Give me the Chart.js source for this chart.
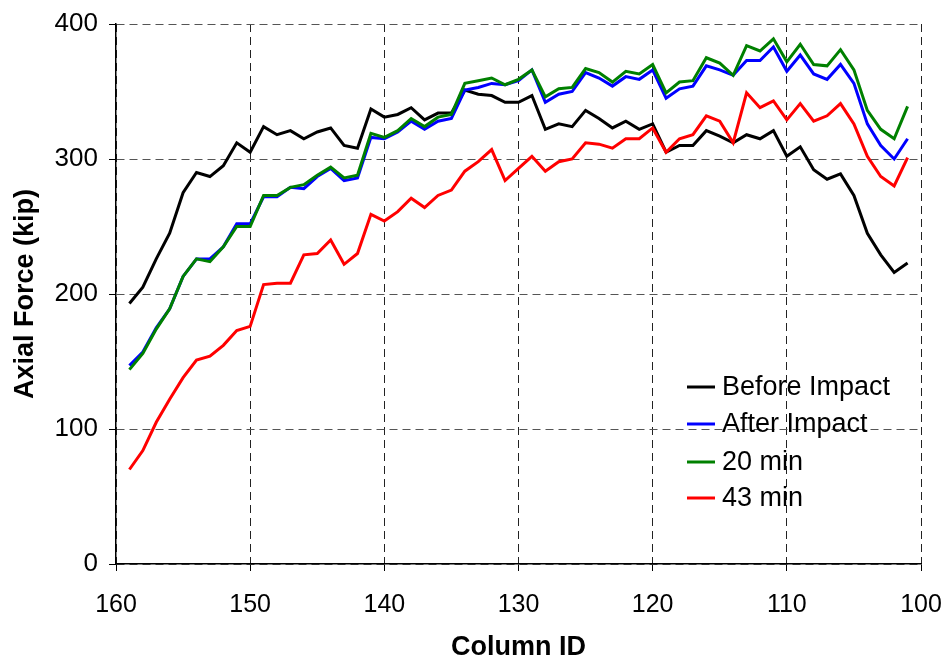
<!DOCTYPE html>
<html>
<head>
<meta charset="utf-8">
<script src="https://cdn.jsdelivr.net/npm/chart.js@4"></script>
<style>
  html, body { margin: 0; padding: 0; background: #fff; }
  #wrap { width: 946px; height: 661px; }
</style>
</head>
<body>
<div id="wrap"><canvas id="myChart" width="946" height="661"></canvas></div>
<script>
const columnIds = [159, 158, 157, 156, 155, 154, 153, 152, 151, 150,
                   149, 148, 147, 146, 145, 144, 143, 142, 141, 140,
                   139, 138, 137, 136, 135, 134, 133, 132, 131, 130,
                   129, 128, 127, 126, 125, 124, 123, 122, 121, 120,
                   119, 118, 117, 116, 115, 114, 113, 112, 111, 110,
                   109, 108, 107, 106, 105, 104, 103, 102, 101];

const beforeImpact = [193, 205, 226, 245, 275, 290, 287, 295, 312, 305,
                      324, 318, 321, 315, 320, 323, 310, 308, 337, 331,
                      333, 338, 329, 334, 334, 351, 348, 347, 342, 342,
                      347, 322, 326, 324, 336, 330, 323, 328, 322, 326,
                      305, 310, 310, 321, 317, 312, 318, 315, 321, 302,
                      309, 292, 285, 289, 273, 245, 229, 216, 223];

const afterImpact = [147, 157, 175, 189, 213, 226, 226, 235, 252, 252,
                     272, 272, 279, 278, 287, 293, 284, 286, 316, 315,
                     320, 328, 322, 328, 330, 351, 353, 356, 355, 358,
                     366, 342, 348, 350, 364, 360, 354, 361, 359, 366,
                     345, 352, 354, 369, 366, 362, 373, 373, 383, 365,
                     377, 363, 359, 370, 356, 326, 310, 300, 315];

const min20 = [144, 156, 174, 189, 213, 226, 224, 235, 250, 250,
               273, 273, 279, 281, 288, 294, 286, 288, 319, 316,
               321, 330, 324, 331, 333, 356, 358, 360, 355, 359,
               366, 346, 352, 353, 367, 364, 357, 365, 363, 370,
               349, 357, 358, 375, 371, 362, 384, 380, 389, 372,
               385, 370, 369, 381, 366, 336, 322, 315, 339];

const min43 = [70, 84, 105, 122, 138, 151, 154, 162, 173, 176,
               207, 208, 208, 229, 230, 240, 222, 230, 259, 254,
               261, 271, 264, 273, 277, 291, 298, 307, 284, 293,
               302, 291, 298, 300, 312, 311, 308, 315, 315, 323,
               305, 315, 318, 332, 328, 312, 349, 338, 343, 329,
               341, 328, 332, 341, 326, 302, 287, 280, 301];

const seriesNames = ['Before Impact', 'After Impact', '20 min', '43 min'];
const seriesColors = ['#000000', '#0000ff', '#008000', '#ff0000'];

const xTicks = [160, 150, 140, 130, 120, 110, 100];
const yTicks = [0, 100, 200, 300, 400];

const FONT = '"Liberation Sans", Arial, sans-serif';

function toPoints(values) {
    return columnIds.map((id, i) => ({ x: id, y: values[i] }));
}

const allValues = [beforeImpact, afterImpact, min20, min43];
const datasets = allValues.map((vals, i) => ({
    label: seriesNames[i],
    data: toPoints(vals),
    borderColor: seriesColors[i],
    backgroundColor: seriesColors[i],
    borderWidth: 3,
    pointRadius: 0,
    tension: 0,
    fill: false,
    order: 4 - i
}));

// legend drawn inside the plot area, like the original
const insideLegend = {
    id: 'insideLegend',
    afterDatasetsDraw(chart) {
        const ctx = chart.ctx;
        ctx.save();
        ctx.font = '27px ' + FONT;
        ctx.textBaseline = 'middle';
        ctx.fillStyle = '#000';
        const ys = [387, 424, 462, 498];
        seriesNames.forEach((name, i) => {
            ctx.strokeStyle = seriesColors[i];
            ctx.lineWidth = 3;
            ctx.beginPath();
            ctx.moveTo(687, ys[i]);
            ctx.lineTo(715, ys[i]);
            ctx.stroke();
            ctx.fillText(name, 722, ys[i] + 1);
        });
        ctx.restore();
    }
};

const config = {
    type: 'line',
    data: { datasets: datasets },
    options: {
        responsive: false,
        animation: false,
        layout: { padding: { top: 24, right: 25, left: 0, bottom: 0 } },
        plugins: {
            legend: { display: false },
            tooltip: { enabled: false }
        },
        scales: {
            x: {
                type: 'linear',
                reverse: true,
                min: 100,
                max: 160,
                afterFit: (s) => {
                    s.height = 97;
                    s.paddingLeft = 0;
                    s.paddingRight = 0;
                },
                afterBuildTicks: (s) => { s.ticks = xTicks.map(v => ({ value: v })); },
                ticks: {
                    color: '#000',
                    font: { family: FONT, size: 25 },
                    padding: 19,
                    maxRotation: 0
                },
                grid: {
                    color: '#222',
                    lineWidth: 1,
                    tickColor: '#000',
                    tickLength: 7
                },
                border: { display: true, color: '#000', width: 1.5, dash: [8, 5] },
                title: {
                    display: true,
                    text: 'Column ID',
                    color: '#000',
                    font: { family: FONT, size: 27, weight: 'bold', lineHeight: 1 },
                    padding: { top: 0, bottom: 0 }
                }
            },
            y: {
                min: 0,
                max: 400,
                afterFit: (s) => {
                    s.width = 116;
                    s.paddingTop = 0;
                    s.paddingBottom = 0;
                },
                afterBuildTicks: (s) => { s.ticks = yTicks.map(v => ({ value: v })); },
                ticks: {
                    color: '#000',
                    font: { family: FONT, size: 26 },
                    padding: 11
                },
                grid: {
                    color: '#555',
                    lineWidth: 1,
                    tickColor: '#000',
                    tickLength: 7
                },
                border: { display: true, color: '#000', width: 1.5, dash: [8, 5] },
                title: {
                    display: true,
                    text: 'Axial Force (kip)',
                    color: '#000',
                    font: { family: FONT, size: 27, weight: 'bold', lineHeight: 1 },
                    padding: { top: 12, bottom: 0 }
                }
            }
        }
    },
    plugins: [insideLegend]
};

var myChart = new Chart(document.getElementById('myChart'), config);
</script>
</body>
</html>
